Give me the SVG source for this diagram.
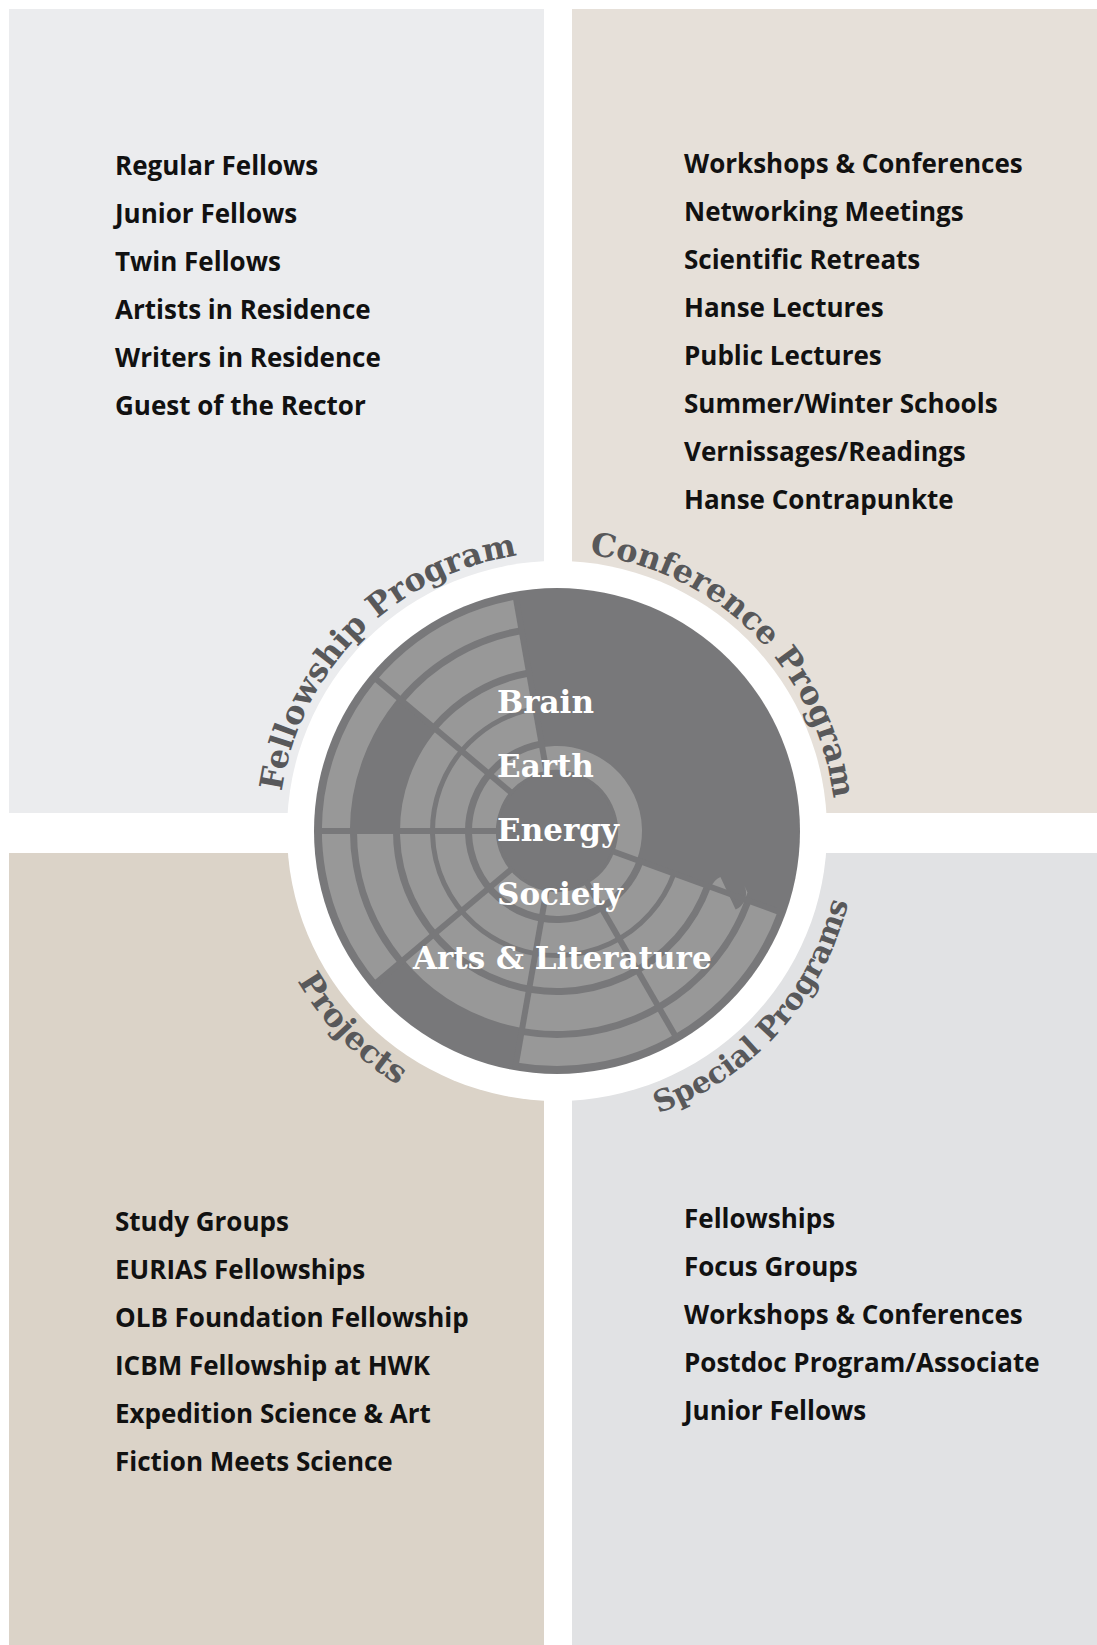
<svg xmlns="http://www.w3.org/2000/svg" width="1097" height="1645" viewBox="0 0 1097 1645">
<style>
.list{font-family:"Open Sans","Noto Sans",sans-serif;font-weight:700;font-size:26px;fill:#111111}
.curve{font-family:"DejaVu Serif",serif;font-weight:700;font-size:32px;fill:#58585a}
.curve.small{font-size:30px}
.core{font-family:"DejaVu Serif",serif;font-weight:700;font-size:31px;fill:#ffffff}
.ring{fill:none;stroke:#989898}
.gap{stroke:#78787a;stroke-width:6}
</style>
<defs>
<path id="arcFellow" d="M360.4,1027.6 A278,278 0 0 1 753.6,634.4"/>
<path id="arcConf" d="M360.4,634.4 A278,278 0 0 1 753.6,1027.6"/>
<path id="arcSpecial" d="M356.3,1053.9 A299,299 0 0 0 757.7,608.1"/>
<path id="arcProj" d="M348.6,615.2 A300,300 0 0 0 765.4,1046.8"/>
</defs>
<rect width="1097" height="1645" fill="#ffffff"/>
<g id="fellowship-program">
<rect x="9" y="9" width="535" height="804" fill="#ebecee"/>
<text class="list" x="115" y="175">Regular Fellows</text>
<text class="list" x="115" y="223">Junior Fellows</text>
<text class="list" x="115" y="271">Twin Fellows</text>
<text class="list" x="115" y="319">Artists in Residence</text>
<text class="list" x="115" y="367">Writers in Residence</text>
<text class="list" x="115" y="415">Guest of the Rector</text>
</g>
<g id="conference-program">
<rect x="572" y="9" width="525" height="804" fill="#e6e0d9"/>
<text class="list" x="684" y="173">Workshops &amp; Conferences</text>
<text class="list" x="684" y="221">Networking Meetings</text>
<text class="list" x="684" y="269">Scientific Retreats</text>
<text class="list" x="684" y="317">Hanse Lectures</text>
<text class="list" x="684" y="365">Public Lectures</text>
<text class="list" x="684" y="413">Summer/Winter Schools</text>
<text class="list" x="684" y="461">Vernissages/Readings</text>
<text class="list" x="684" y="509">Hanse Contrapunkte</text>
</g>
<g id="projects">
<rect x="9" y="853" width="535" height="792" fill="#dbd3c8"/>
<text class="list" x="115" y="1231">Study Groups</text>
<text class="list" x="115" y="1279">EURIAS Fellowships</text>
<text class="list" x="115" y="1327">OLB Foundation Fellowship</text>
<text class="list" x="115" y="1375">ICBM Fellowship at HWK</text>
<text class="list" x="115" y="1423">Expedition Science &amp; Art</text>
<text class="list" x="115" y="1471">Fiction Meets Science</text>
</g>
<g id="special-programs">
<rect x="572" y="853" width="525" height="792" fill="#e1e2e4"/>
<text class="list" x="684" y="1228">Fellowships</text>
<text class="list" x="684" y="1276">Focus Groups</text>
<text class="list" x="684" y="1324">Workshops &amp; Conferences</text>
<text class="list" x="684" y="1372">Postdoc Program/Associate</text>
<text class="list" x="684" y="1420">Junior Fellows</text>
</g>
<g id="hub">
<circle cx="557" cy="831" r="270" fill="#ffffff"/>
<circle cx="557" cy="831" r="243" fill="#78787a"/>
<g transform="rotate(20 557 831)">
<circle class="ring" cx="557" cy="831" r="221" stroke-width="28" pathLength="360" stroke-dasharray="80 40 120 120"/>
<circle class="ring" cx="557" cy="831" r="182" stroke-width="36" pathLength="360" stroke-dasharray="160 40 40 120"/>
<circle class="ring" cx="557" cy="831" r="142" stroke-width="30" pathLength="360" stroke-dasharray="240 120"/>
<circle class="ring" cx="557" cy="831" r="107" stroke-width="30" pathLength="360" stroke-dasharray="240 120"/>
<circle class="ring" cx="557" cy="831" r="73" stroke-width="24"/>
</g>
<g id="sector-gaps">
<line class="gap" x1="557" y1="831" x2="782.5" y2="913.1"/>
<line class="gap" x1="557" y1="831" x2="677" y2="1038.8"/>
<line class="gap" x1="557" y1="831" x2="515.3" y2="1067.4"/>
<line class="gap" x1="557" y1="831" x2="373.2" y2="985.3"/>
<line class="gap" x1="557" y1="831" x2="317" y2="831"/>
<line class="gap" x1="557" y1="831" x2="373.2" y2="676.7"/>
<line class="gap" x1="557" y1="831" x2="515.3" y2="594.7"/>
</g>
<circle cx="557" cy="831" r="58" fill="#78787a"/>
<text class="core" x="497" y="713">Brain</text>
<text class="core" x="497" y="777">Earth</text>
<text class="core" x="497" y="841">Energy</text>
<text class="core" x="497" y="905">Society</text>
<text class="core" x="413" y="969">Arts &amp; Literature</text>
</g>
<g id="curved-labels">
<text class="curve"><textPath href="#arcFellow" startOffset="50%" text-anchor="middle">Fellowship Program</textPath></text>
<text class="curve"><textPath href="#arcConf" startOffset="50%" text-anchor="middle">Conference Program</textPath></text>
<text class="curve small"><textPath href="#arcSpecial" startOffset="50%" text-anchor="middle">Special Programs</textPath></text>
<text class="curve"><textPath href="#arcProj" startOffset="50%" text-anchor="middle">Projects</textPath></text>
</g>
</svg>
